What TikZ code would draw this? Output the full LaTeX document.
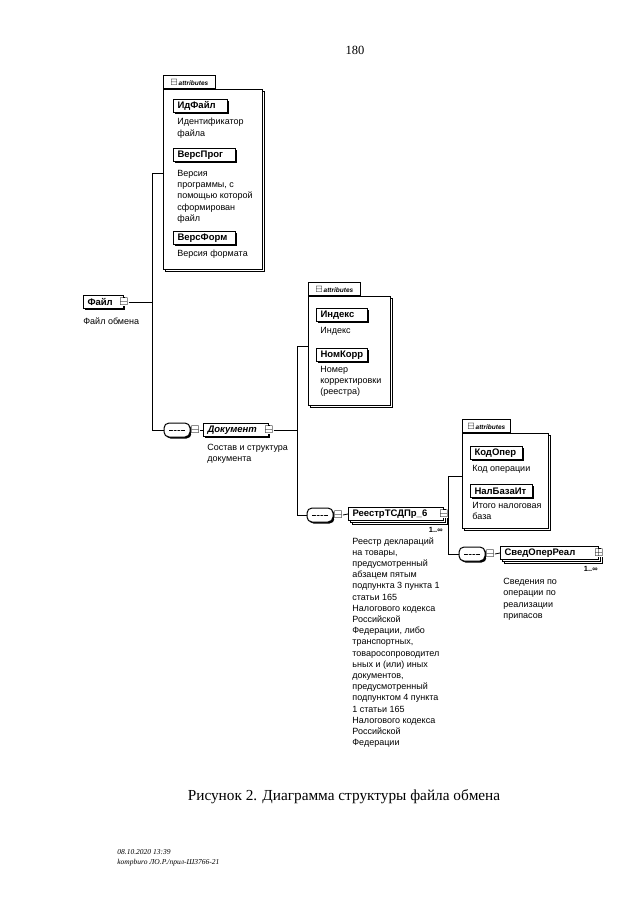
\documentclass[tikz,border=0pt]{standalone}
\usepackage{amssymb}
\usepackage{fontspec}
\setmainfont{Liberation Serif}
\setsansfont{Liberation Sans}
\usetikzlibrary{positioning,shadows}

\begin{document}
\begin{tikzpicture}[x=1pt,y=-1pt,line width=0.8pt,
	elem/.style={draw,line width=1pt,fill=white,anchor=west,font=\sffamily\bfseries\fontsize{9.5}{10}\selectfont,inner xsep=4pt,inner ysep=0pt,minimum height=13pt},
	single/.style={elem,drop shadow={shadow xshift=1.5pt,shadow yshift=-1.5pt,opacity=1,fill=black}},
	multi/.style={elem,double copy shadow={shadow xshift=2pt,shadow yshift=-2pt}},
	minbox/.style={fill=white,inner sep=0pt,font=\fontsize{11}{11}\selectfont},
	seq/.style={draw,line width=1pt,fill=white,rounded corners=5pt,minimum width=26pt,minimum height=14pt,
		drop shadow={shadow xshift=1.5pt,shadow yshift=-1.5pt,opacity=1,fill=black},
		path picture={\draw[line width=0.6pt] ([xshift=5pt]path picture bounding box.west) -- ([xshift=-5pt]path picture bounding box.east);
			\fill (path picture bounding box.center) circle (0.9pt) ++(-3.5pt,0) circle (0.9pt) ++(7pt,0) circle (0.9pt);}},
	attrbox/.style={draw,fill=white,anchor=north west,copy shadow={shadow xshift=2pt,shadow yshift=-2pt}},
	attrtab/.style={draw,fill=white,anchor=south west,inner sep=1.5pt,minimum height=13pt,font=\sffamily\bfseries\itshape\fontsize{6.5}{7}\selectfont},
	desc/.style={anchor=north west,inner sep=0pt,align=left,font=\sffamily\fontsize{9}{11.2}\selectfont}]
	\useasboundingbox (0,0) rectangle (640,905);
	\node (pagenum) at (355,50) {\fontsize{12.5}{14}\selectfont 180};

	% root element
	\node [single,text width=32pt] (file) at (83,302) {Файл};
	\node [minbox] (filex) at (file.east) {$\boxminus$};
	\node [desc] (filedesc) at (83,317) {Файл обмена};

	% attributes of Файл
	\node [attrbox,minimum width=99pt,minimum height=180pt] (fileattr) at (163,89) {};
	\node [attrtab,minimum width=52pt] (fileattrtab) at (fileattr.north west) {{\normalfont\fontsize{9}{9}\selectfont$\boxminus$}\,attributes};
	\node [single,text width=46pt] (idfile) at (173,106) {ИдФайл};
	\node [desc] (idfiledesc) at (177,118) {Идентификатор\\файла};
	\node [single,text width=54pt] (versprog) at (173,155) {ВерсПрог};
	\node [desc] (versprogdesc) at (177,170) {Версия\\программы, с\\помощью которой\\сформирован\\файл};
	\node [single,text width=54pt] (versform) at (173,238) {ВерсФорм};
	\node [desc] (versformdesc) at (177,250) {Версия формата};

	% Документ
	\node [seq] (seqfile) at (177,430) {};
	\node [minbox,anchor=west] (seqfilex) at (seqfile.east) {$\boxminus$};
	\node [single,text width=57pt,font=\sffamily\bfseries\itshape\fontsize{9.5}{10}\selectfont] (doc) at (203,430) {Документ};
	\node [minbox] (docx) at (doc.east) {$\boxminus$};
	\node [desc] (docdesc) at (207,444) {Состав и структура\\документа};

	% attributes of Документ
	\node [attrbox,minimum width=82pt,minimum height=109pt] (docattr) at (308,296) {};
	\node [attrtab,minimum width=52pt] (docattrtab) at (docattr.north west) {{\normalfont\fontsize{9}{9}\selectfont$\boxminus$}\,attributes};
	\node [single,text width=43pt] (index) at (316,315) {Индекс};
	\node [desc] (indexdesc) at (320,327) {Индекс};
	\node [single,text width=43pt] (nomkorr) at (316,355) {НомКорр};
	\node [desc] (nomkorrdesc) at (320,366) {Номер\\корректировки\\(реестра)};

	% РеестрТСДПр_6
	\node [seq] (seqdoc) at (320,515) {};
	\node [minbox,anchor=west] (seqdocx) at (seqdoc.east) {$\boxminus$};
	\node [multi,text width=87pt] (reestr) at (348,514) {РеестрТСДПр\_6};
	\node [minbox] (reestrx) at (reestr.east) {$\boxminus$};
	\node [anchor=north east,inner sep=0pt,font=\sffamily\bfseries\fontsize{7.5}{8}\selectfont] (reestrocc) at (443,527) {1..∞};
	\node [desc] (reestrdesc) at (352,537) {Реестр деклараций\\на товары,\\предусмотренный\\абзацем пятым\\подпункта 3 пункта 1\\статьи 165\\Налогового кодекса\\Российской\\Федерации, либо\\транспортных,\\товаросопроводител\\ьных и (или) иных\\документов,\\предусмотренный\\подпунктом 4 пункта\\1 статьи 165\\Налогового кодекса\\Российской\\Федерации};

	% attributes of РеестрТСДПр_6
	\node [attrbox,minimum width=86pt,minimum height=95pt] (reestrattr) at (462,433) {};
	\node [attrtab,minimum width=48pt] (reestrattrtab) at (reestrattr.north west) {{\normalfont\fontsize{9}{9}\selectfont$\boxminus$}\,attributes};
	\node [single,text width=44pt] (kodoper) at (470,453) {КодОпер};
	\node [desc] (kodoperdesc) at (472,465) {Код операции};
	\node [single,text width=54pt] (nalbaza) at (470,491) {НалБазаИт};
	\node [desc] (nalbazadesc) at (472,502) {Итого налоговая\\база};

	% СведОперРеал
	\node [seq] (seqreestr) at (472,554) {};
	\node [minbox,anchor=west] (seqreestrx) at (seqreestr.east) {$\boxminus$};
	\node [multi,text width=90pt] (svedoper) at (500,553) {СведОперРеал};
	\node [minbox] (svedoperx) at (svedoper.east) {$\boxplus$};
	\node [anchor=north east,inner sep=0pt,font=\sffamily\bfseries\fontsize{7.5}{8}\selectfont] (svedoperocc) at (598,566) {1..∞};
	\node [desc] (svedoperdesc) at (503,578) {Сведения по\\операции по\\реализации\\припасов};

	% connectors
	\coordinate (fileup) at (152,173);
	\coordinate (docup) at (297,346);
	\coordinate (reestrup) at (448,476);
	\draw (filex.east) -- (filex.east -| fileup);
	\draw (fileattr.west |- fileup) -- (fileup) |- (seqfile.west);
	\draw (seqfilex.east) -- (doc.west);
	\draw (docx.east) -- (docx.east -| docup);
	\draw (docattr.west |- docup) -- (docup) |- (seqdoc.west);
	\draw (seqdocx.east) -- (reestr.west);
	\draw (reestrx.east) -- (reestrx.east -| reestrup);
	\draw (reestrattr.west |- reestrup) -- (reestrup) |- (seqreestr.west);
	\draw (seqreestrx.east) -- (svedoper.west);

	% caption and stamp
	\node (caption) at (344,797) {\fontsize{15.3}{18}\selectfont Рисунок 2. Диаграмма структуры файла обмена};
	\node [anchor=west,inner sep=0pt,font=\itshape\fontsize{7.5}{9}\selectfont] (stampdate) at (117,852) {08.10.2020 13:39};
	\node [anchor=west,inner sep=0pt,font=\itshape\fontsize{7.5}{9}\selectfont] (stampfile) at (117,863) {kompburo ЛО.Р./прил-Ш3766-21};
\end{tikzpicture}
\end{document}
